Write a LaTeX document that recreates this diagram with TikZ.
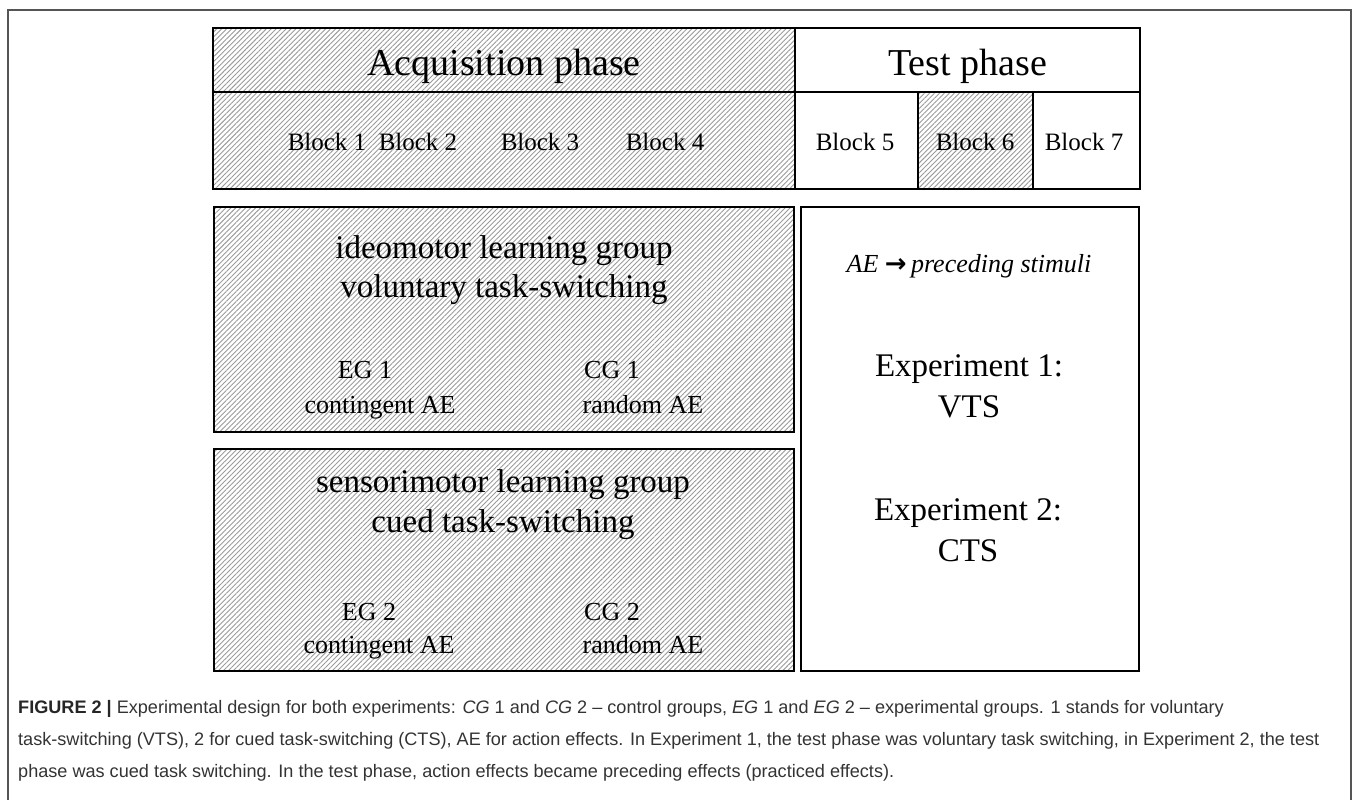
\documentclass[tikz,border=0pt]{standalone}
\usepackage{fontspec}
\usepackage{xcolor}
\setmainfont{Liberation Serif}
\newfontfamily\capfont{Liberation Sans}
\newfontfamily\symfont{DejaVu Sans}
\usetikzlibrary{
    patterns.meta,
    positioning
}
\newcommand{\phasefont}{\fontsize{38}{44}\selectfont}
\newcommand{\blockfont}{\fontsize{25}{30}\selectfont}
\newcommand{\groupfont}{\fontsize{33}{40}\selectfont}
\newcommand{\subfont}{\fontsize{26}{32}\selectfont}
\newcommand{\expfont}{\fontsize{33}{41}\selectfont}
\definecolor{capgray}{HTML}{333333}
\definecolor{hatchgray}{HTML}{9A9A9A}
\definecolor{framegray}{HTML}{555555}
\tikzset{cell/.style={draw=black, line width=2.6pt, rectangle, inner sep=0pt, outer sep=0pt}}
\tikzset{hatch/.style={pattern={Lines[angle=45, distance=3.5pt, line width=0.9pt]}, pattern color=hatchgray}}
\tikzset{lbl/.style={anchor=base, inner sep=0pt}}
\tikzset{captxt/.style={anchor=base west, inner sep=0pt, text=capgray, font=\capfont\fontsize{18.1}{22}\selectfont}}

\begin{document}
\begin{tikzpicture}[x=1pt, y=-1pt]
                        \useasboundingbox (0, 0) rectangle (1357, 800);
                        \draw[framegray, line width=1.3pt] (8, 801) -- (8, 10) -- (1351, 10) -- (1351, 801);
                        % phase row and blocks
                        \node[cell, hatch, minimum width=582pt, minimum height=64pt] (acq) at (504, 60) {};
                        \node[cell, minimum width=345pt, minimum height=64pt] (test) at (967.5, 60) {};
                        \node[cell, hatch, minimum width=582pt, minimum height=97pt] (blk) at (504, 140.5) {};
                        \node[cell, minimum width=123pt, minimum height=97pt] (b5) at (856.5, 140.5) {};
                        \node[cell, hatch, minimum width=115pt, minimum height=97pt] (b6) at (975.5, 140.5) {};
                        \node[cell, minimum width=107pt, minimum height=97pt] (b7) at (1086.5, 140.5) {};
                        \node[lbl, font=\phasefont] (acqt) at (504, 75) {Acquisition phase};
                        \node[lbl, font=\phasefont] (testt) at (967.5, 75) {Test phase};
                        \node[lbl, font=\blockfont] (t1) at (327, 150) {Block 1};
                        \node[lbl, font=\blockfont] (t2) at (418, 150) {Block 2};
                        \node[lbl, font=\blockfont] (t3) at (540, 150) {Block 3};
                        \node[lbl, font=\blockfont] (t4) at (665, 150) {Block 4};
                        \node[lbl, font=\blockfont] (t5) at (855, 150) {Block 5};
                        \node[lbl, font=\blockfont] (t6) at (975, 150) {Block 6};
                        \node[lbl, font=\blockfont] (t7) at (1084, 150) {Block 7};
                        % groups
                        \node[cell, hatch, minimum width=580pt, minimum height=225pt] (ideo) at (504, 319.5) {};
                        \node[cell, hatch, minimum width=580pt, minimum height=222pt] (senso) at (504, 560) {};
                        \node[cell, minimum width=338pt, minimum height=464pt] (exp) at (970, 439) {};
                        \node[lbl, font=\groupfont] (ideo1) at (504, 258) {ideomotor learning group};
                        \node[lbl, font=\groupfont] (ideo2) at (504, 297) {voluntary task-switching};
                        \node[lbl, font=\subfont] (eg1) at (365, 378) {EG 1};
                        \node[lbl, font=\subfont] (eg1b) at (380, 413) {contingent AE};
                        \node[lbl, font=\subfont] (cg1) at (612, 378) {CG 1};
                        \node[lbl, font=\subfont] (cg1b) at (643, 413) {random AE};
                        \node[lbl, font=\groupfont] (senso1) at (503, 492) {sensorimotor learning group};
                        \node[lbl, font=\groupfont] (senso2) at (503, 532) {cued task-switching};
                        \node[lbl, font=\subfont] (eg2) at (369, 620) {EG 2};
                        \node[lbl, font=\subfont] (eg2b) at (379, 653) {contingent AE};
                        \node[lbl, font=\subfont] (cg2) at (612, 620) {CG 2};
                        \node[lbl, font=\subfont] (cg2b) at (643, 653) {random AE};
                        % test phase box
                        \node[lbl, font=\subfont] (ae) at (969, 272) {\textit{AE} {\symfont\bfseries →}\,\textit{preceding stimuli}};
                        \node[lbl, font=\expfont] (exp1) at (969, 376) {Experiment 1:};
                        \node[lbl, font=\expfont] (vts) at (969, 417) {VTS};
                        \node[lbl, font=\expfont] (exp2) at (968, 520) {Experiment 2:};
                        \node[lbl, font=\expfont] (cts) at (968, 561) {CTS};
                        % caption
                        \node[captxt] (cap1) at (18, 713) {{\bfseries\color{black!85}FIGURE 2 |} Experimental design for both experiments: \textit{CG} 1 and \textit{CG} 2 – control groups, \textit{EG} 1 and \textit{EG} 2 – experimental groups. 1 stands for voluntary};
                        \node[captxt] (cap2) at (18, 745) {task-switching (VTS), 2 for cued task-switching (CTS), AE for action effects. In Experiment 1, the test phase was voluntary task switching, in Experiment 2, the test};
                        \node[captxt] (cap3) at (18, 777) {phase was cued task switching. In the test phase, action effects became preceding effects (practiced effects).};
                    \end{tikzpicture}
\end{document}
